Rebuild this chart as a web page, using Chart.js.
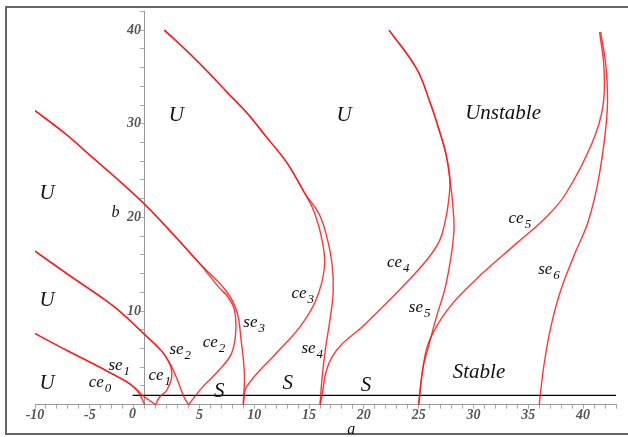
<!DOCTYPE html>
<html lang="en">
<head>
<meta charset="UTF-8">
<title>Mathieu stability chart</title>
<script src="https://cdn.jsdelivr.net/npm/chart.js"></script>
<style>
  body { margin: 0; background: #fff; }
  canvas { display: block; }
</style>
</head>
<body>
<canvas id="grafico" width="628" height="437"></canvas>
<script>
// curves: a (horizontal) and b (vertical), b going up
var ce0A = [0, -0.4, -0.9, -1.7, -4.1, -7.1, -10];
var ce0B = [0, 1.0, 1.8, 2.5, 4.0, 5.8, 7.6];
var se1A = [1, 0.4, -0.2, -0.9, -1.7, -4.1, -7.1, -10];
var se1B = [0, 0.5, 1.0, 1.8, 2.5, 4.0, 5.8, 7.6];

var ce1A = [1, 1.35, 2.0, 2.45, 2.4, 2.0, 1.5, 0, -2.3, -3.5, -7.1, -10];
var ce1B = [0, 0.8, 1.5, 2.8, 4.0, 5.0, 5.8, 7.5, 10.0, 11.1, 14.0, 16.4];
var se2A = [4, 3.6, 3.0, 2.4, 1.5, 0, -2.3, -3.5, -7.1, -10];
var se2B = [0, 0.8, 2.6, 4.2, 5.8, 7.5, 10.0, 11.1, 14.0, 16.4];

var ce2A = [4, 5.3, 6.8, 7.9, 8.3, 8.2, 7.6, 6.8, 5.0, 2.6, 0, -2.6, -4.75, -7.2, -10];
var ce2B = [0, 1.9, 3.7, 5.4, 7.6, 10.1, 11.5, 12.5, 15.1, 18.2, 21.4, 24.2, 26.4, 28.9, 31.4];
var se3A = [9, 9.1, 8.8, 8.4, 7.4, 5.0, 2.6, 0, -2.6, -4.75, -7.2, -10];
var se3B = [0, 3.3, 6.9, 10.0, 12.2, 15.1, 18.2, 21.4, 24.2, 26.4, 28.9, 31.4];

var ce3A = [9, 9.3, 12.0, 14.1, 15.6, 16.4, 16.2, 15.5, 14.6, 13.0, 11.1, 9.3, 7.5, 5.8, 4.0, 1.8];
var ce3B = [0, 1.9, 5.5, 8.2, 11.1, 14.6, 17.5, 20.5, 22.6, 25.8, 28.6, 31.2, 33.4, 35.5, 37.6, 40.0];
var se4A = [16, 16.2, 16.5, 16.9, 17.2, 17.1, 16.6, 15.9, 14.6, 13.0, 11.1, 9.3, 7.5, 5.8, 4.0, 1.8];
var se4B = [0, 3.0, 6.0, 9.0, 12.0, 15.0, 18.0, 20.4, 22.6, 25.8, 28.6, 31.2, 33.4, 35.5, 37.6, 40.0];

var ce4A = [16, 17.1, 20.2, 23.2, 25.7, 26.9, 27.4, 27.7, 27.85, 27.5, 26.9, 26.0, 24.8, 22.3];
var ce4B = [0, 5.1, 8.7, 12.2, 15.4, 17.5, 19.5, 21.5, 24.0, 26.7, 29.2, 32.4, 35.9, 40.0];
var se5A = [25, 25.4, 25.8, 26.6, 27.5, 28.2, 28.1, 27.85, 27.5, 26.9, 26.0, 24.8, 22.3];
var se5B = [0, 4.0, 5.8, 9.3, 12.9, 18.2, 21.5, 24.0, 26.7, 29.2, 32.4, 35.9, 40.0];

var ce5A = [25, 25.4, 26.0, 27.8, 30.8, 33.9, 36.6, 38.4, 40.8, 41.8, 41.9, 41.5];
var ce5B = [0, 4.0, 6.9, 10.4, 14.0, 17.2, 20.0, 22.5, 27.9, 31.8, 36.0, 39.8];
var se6A = [36, 36.4, 37.0, 37.9, 39.2, 40.5, 41.5, 42.2, 42.1, 41.6];
var se6B = [0, 4.0, 8.0, 12.0, 16.0, 19.7, 24.7, 31.4, 35.9, 39.8];

// the black boundary line just above the a axis
var limiteA = [-1.1, 43];
var limiteB = [1.0, 1.0];

// region names: text, a, b
var rotulosGrandes = [
    ['U', -8.9, 22.6], ['U', -8.9, 11.1], ['U', -8.9, 2.3],
    ['U', 2.9, 30.9], ['U', 18.2, 30.9], ['Unstable', 32.7, 31.1],
    ['Stable', 30.5, 3.4], ['S', 6.8, 1.4], ['S', 13.05, 2.3], ['S', 20.2, 2.1]
];
// curve names: text, subscript, a, b
var rotulosCurvas = [
    ['ce', '0', -5.1, 1.87], ['se', '1', -3.3, 3.7], ['ce', '1', 0.35, 2.6],
    ['se', '2', 2.26, 5.4], ['ce', '2', 5.3, 6.2], ['se', '3', 9.0, 8.3],
    ['ce', '3', 13.4, 11.4], ['se', '4', 14.3, 5.5], ['ce', '4', 22.1, 14.7],
    ['se', '5', 24.1, 9.9], ['ce', '5', 33.2, 19.4], ['se', '6', 35.9, 14.0]
];

var curvas = [
    [ce0A, ce0B], [se1A, se1B], [ce1A, ce1B], [se2A, se2B],
    [ce2A, ce2B], [se3A, se3B], [ce3A, ce3B], [se4A, se4B],
    [ce4A, ce4B], [se5A, se5B], [ce5A, ce5B], [se6A, se6B]
];

function pontos(as, bs) {
    var lista = [];
    for (var i = 0; i < as.length; i++) {
        lista.push({ x: as[i], y: bs[i] });
    }
    return lista;
}

var conjuntos = [];
for (var i = 0; i < curvas.length; i++) {
    conjuntos.push({
        data: pontos(curvas[i][0], curvas[i][1]),
        showLine: true,
        borderColor: 'rgba(255, 20, 20, 0.85)',
        borderWidth: 1.4,
        pointRadius: 0,
        tension: 0.4
    });
}
conjuntos.push({
    data: pontos(limiteA, limiteB),
    showLine: true,
    borderColor: '#000',
    borderWidth: 1.3,
    pointRadius: 0,
    tension: 0
});

var serifa = '"Liberation Serif", "DejaVu Serif", serif';

var moldura = {
    id: 'moldura',
    beforeDraw: function (chart) {
        var c = chart.ctx;
        c.save();
        c.fillStyle = '#fff';
        c.fillRect(0, 0, chart.width, chart.height);
        c.strokeStyle = '#666';
        c.lineWidth = 2;
        c.beginPath();
        c.moveTo(chart.width, 7);
        c.lineTo(6, 7);
        c.lineTo(6, 434);
        c.lineTo(chart.width, 434);
        c.stroke();
        c.restore();
    },
    afterDatasetsDraw: function (chart) {
        var c = chart.ctx;
        var sx = chart.scales.x, sy = chart.scales.y;
        c.save();
        c.fillStyle = '#111';
        c.textAlign = 'center';
        c.textBaseline = 'middle';
        c.font = 'italic 21px ' + serifa;
        rotulosGrandes.forEach(function (r) {
            c.fillText(r[0], sx.getPixelForValue(r[1]), sy.getPixelForValue(r[2]));
        });
        c.textAlign = 'left';
        c.textBaseline = 'alphabetic';
        rotulosCurvas.forEach(function (r) {
            var px = sx.getPixelForValue(r[2]);
            var py = sy.getPixelForValue(r[3]);
            c.font = 'italic 17px ' + serifa;
            c.fillText(r[0], px, py);
            var w = c.measureText(r[0]).width;
            c.font = 'italic 13px ' + serifa;
            c.fillText(r[1], px + w + 1, py + 5);
        });
        // axis names and the zero that sits left of the b axis
        c.textAlign = 'center';
        c.textBaseline = 'middle';
        c.font = 'italic 16px ' + serifa;
        c.fillText('a', sx.getPixelForValue(18.85), 430);
        c.fillText('b', sx.getPixelForValue(-2.65), sy.getPixelForValue(20.5));
        c.fillStyle = '#555';
        c.font = 'italic bold 14px ' + serifa;
        c.fillText('0', sx.getPixelForValue(-1.1), sy.getPixelForValue(0) + 10);
        c.restore();
    }
};

var fonteEixo = { family: serifa, style: 'italic', weight: 'bold', size: 14 };

var grafico = new Chart(document.getElementById('grafico'), {
    type: 'scatter',
    data: { datasets: conjuntos },
    options: {
        responsive: false,
        animation: false,
        layout: { padding: { left: 35, right: 12, top: 9.5, bottom: 15.5 } },
        plugins: {
            legend: { display: false },
            tooltip: { enabled: false }
        },
        scales: {
            x: {
                type: 'linear',
                min: -10,
                max: 43,
                position: 'bottom',
                border: { color: '#999', width: 1 },
                grid: { drawOnChartArea: false, tickLength: 4, color: '#aaa' },
                ticks: {
                    stepSize: 1,
                    autoSkip: false,
                    maxRotation: 0,
                    padding: -2,
                    color: '#555',
                    font: fonteEixo,
                    callback: function (v) {
                        return (v % 5 === 0 && v !== 0) ? v : '';
                    }
                }
            },
            y: {
                type: 'linear',
                min: 0,
                max: 42,
                position: { x: 0 },
                afterFit: function (s) { s.width = 0; },
                border: { color: '#999', width: 1 },
                grid: { drawOnChartArea: false, tickLength: 4, color: '#aaa' },
                ticks: {
                    stepSize: 2,
                    autoSkip: false,
                    color: '#555',
                    font: fonteEixo,
                    callback: function (v) {
                        return (v % 10 === 0 && v !== 0) ? v + ' ' : '';
                    }
                }
            }
        }
    },
    plugins: [moldura]
});
</script>
</body>
</html>
